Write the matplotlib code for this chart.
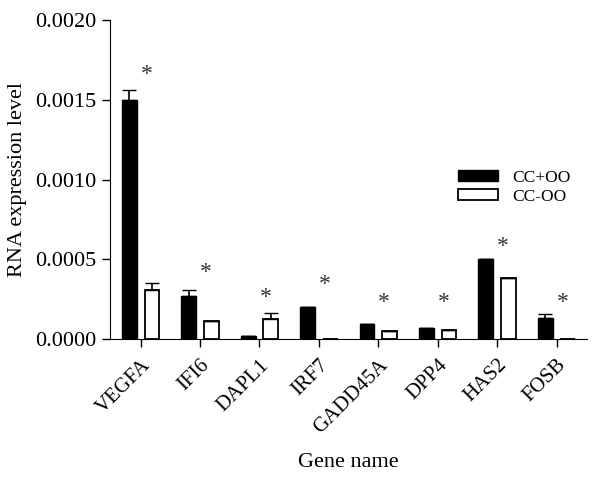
import numpy as np
import matplotlib.pyplot as plt

plt.rcParams['font.family'] = ['Liberation Serif', 'DejaVu Serif']

# Data
genes = ['VEGFA', 'IFI6', 'DAPL1', 'IRF7', 'GADD45A', 'DPP4', 'HAS2', 'FOSB']
cc_oo_pos = [0.00150, 0.00027, 0.00002, 0.00020, 0.000094, 0.000067, 0.00050, 0.00013]
cc_oo_pos_err = [0.00006, 0.00004, 0.0, 0.0, 0.0, 0.0, 0.0, 0.000025]
cc_oo_neg = [0.00031, 0.00011, 0.000125, 0.0, 0.000052, 0.000054, 0.00038, 0.0]
cc_oo_neg_err = [0.00004, 0.0, 0.000035, 0.0, 0.0, 0.0, 0.0, 0.0]
star_y = [0.00166, 0.00042, 0.00026, 0.00034, 0.00023, 0.00023, 0.00058, 0.00023]

x = np.arange(len(genes))
w = 0.25
off = 0.19
zeros = np.zeros(len(genes))

fig = plt.figure(figsize=(6, 4.84), dpi=100)
ax = fig.add_axes([0.183, 0.2996, 0.795, 0.659])

ax.bar(x - off, cc_oo_pos, w, color='black', edgecolor='black', linewidth=1,
       yerr=[zeros, cc_oo_pos_err], error_kw=dict(ecolor='black', capsize=5, elinewidth=1.2),
       label='CC+OO')
ax.bar(x + off, cc_oo_neg, w, color='white', edgecolor='black', linewidth=1.3,
       yerr=[zeros, cc_oo_neg_err], error_kw=dict(ecolor='black', capsize=5, elinewidth=1.2),
       label='CC-OO')

for xi, yi in zip(x, star_y):
    ax.text(xi + 0.1, yi, '*', ha='center', va='center', fontsize=17, color='#333333')

ax.set_xlim(-0.52, 7.51)
ax.set_ylim(0, 0.0020)
ax.set_yticks([0, 0.0005, 0.0010, 0.0015, 0.0020])
ax.set_yticklabels(['0.0000', '0.0005', '0.0010', '0.0015', '0.0020'], fontsize=16)
ax.set_xticks(x)
ax.set_xticklabels(genes, rotation=45, ha='right', rotation_mode='anchor', fontsize=15)
ax.tick_params(direction='out', length=6, width=1)
ax.tick_params(axis='x', pad=6)
ax.spines['top'].set_visible(False)
ax.spines['right'].set_visible(False)
ax.set_xlabel('Gene name', fontsize=16)
ax.set_ylabel('RNA expression level', fontsize=16)
ax.xaxis.set_label_coords(0.5, -0.357)
ax.yaxis.set_label_coords(-0.174, 0.5)

ax.legend(loc='upper left', bbox_to_anchor=(0.698, 0.58), frameon=False, fontsize=12.5,
          handlelength=2.3, handleheight=0.6, labelspacing=0.2)

fig.savefig('out.png', dpi=100)
